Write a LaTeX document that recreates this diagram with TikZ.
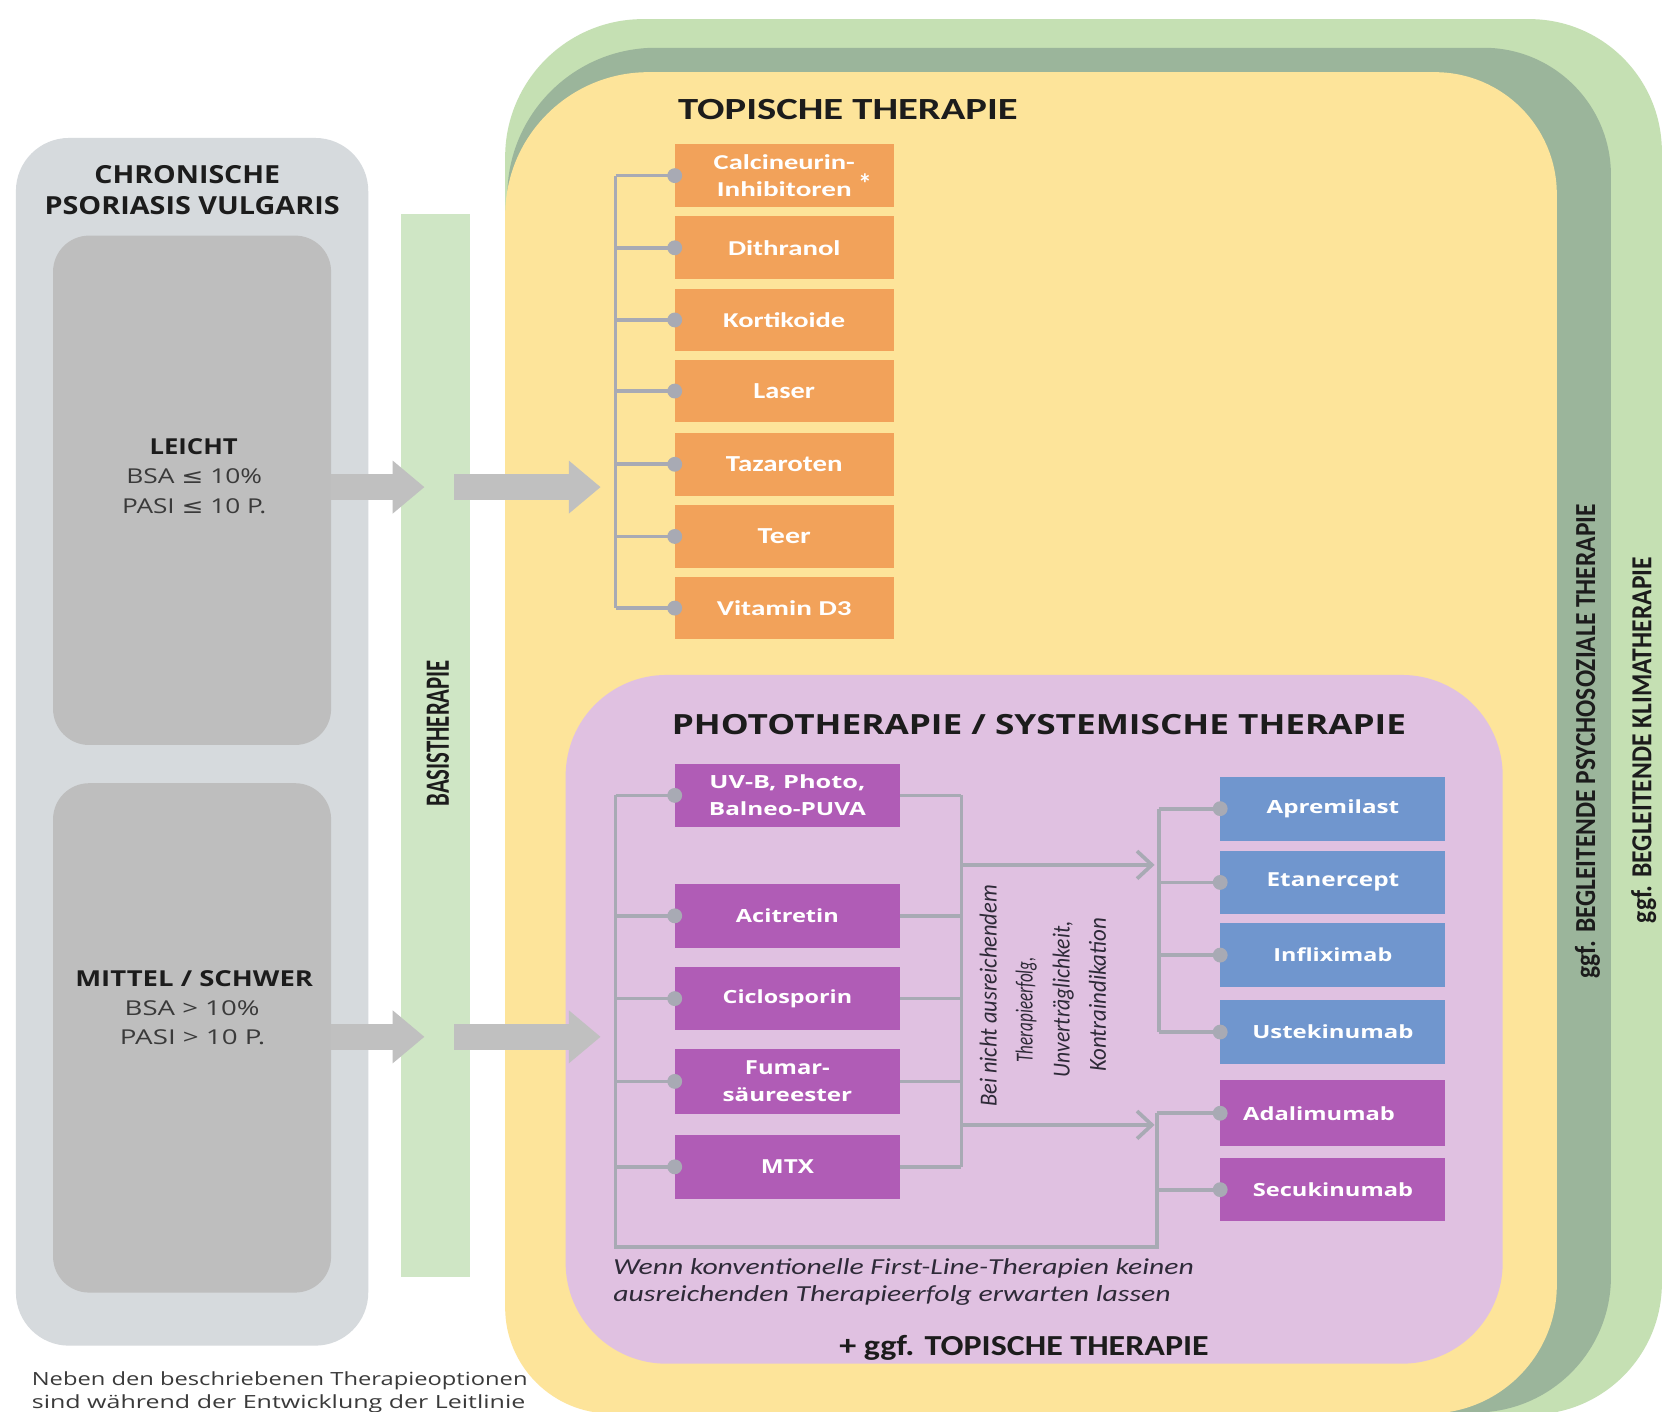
\documentclass[tikz,border=0pt]{standalone}
\usepackage{fontspec}
\usepackage{graphicx}
\setmainfont{Open Sans}
\newfontfamily\carl{Carlito}
\newfontfamily\dvs{DejaVu Sans}
\usetikzlibrary{arrows.meta}
\definecolor{outergray}{HTML}{D6DADD}
\definecolor{innergray}{HTML}{BEBEBE}
\definecolor{arrowgray}{HTML}{C0C0C0}
\definecolor{basisgreen}{HTML}{CFE6C5}
\definecolor{lightgreen}{HTML}{C5E0B3}
\definecolor{darkgreen}{HTML}{9BB59B}
\definecolor{yellowbg}{HTML}{FDE49A}
\definecolor{lilac}{HTML}{E0C1E1}
\definecolor{orangebox}{HTML}{F2A25A}
\definecolor{purplebox}{HTML}{B05CB6}
\definecolor{bluebox}{HTML}{7096CE}
\definecolor{conngray}{HTML}{A8AAB4}
\definecolor{darktext}{HTML}{1C1C1C}
\definecolor{midtext}{HTML}{3A3A3A}
\definecolor{italtext}{HTML}{2E2A38}
\newcommand\fit[3]{\resizebox{#1pt}{#2pt}{#3}}
\tikzset{
  txt/.style={inner sep=0pt, outer sep=0pt, anchor=base, text=darktext},
  hb/.style={txt, font=\bfseries},
  hr/.style={txt, text=midtext},
  cb/.style={txt, font=\carl\bfseries},
  ci/.style={txt, font=\carl\itshape, text=italtext},
  obox/.style={fill=orangebox, minimum width=206pt, minimum height=59pt, inner sep=0pt, text=white, font=\carl\bfseries\fontsize{16}{26}\selectfont, align=center},
  pbox/.style={fill=purplebox, minimum width=212pt, minimum height=60pt, inner sep=0pt, text=white, font=\bfseries\fontsize{16}{25}\selectfont, align=center},
  bbox/.style={pbox, fill=bluebox},
  conn/.style={draw=conngray, line width=3.5pt},
  dot/.style={fill=conngray},
  fat/.style={draw=arrowgray, line width=24pt, -{Triangle[length=30pt,width=48pt]}},
  thinarrow/.style={conn, -{Straight Barb[length=14pt,width=26pt]}},
  graybox/.style={inner sep=0pt, rounded corners=34pt, fill=innergray, minimum width=262pt, minimum height=480pt},
}
\begin{document}
\begin{tikzpicture}[x=1pt,y=-1pt]
\useasboundingbox (0,0) rectangle (1568,1330);
\fill[white] (0,0) rectangle (1568,1330);

% nested background frames
\fill[lightgreen] (476,148) arc[start angle=180,end angle=270,radius=130] -- (1441,18)
  arc[start angle=270,end angle=360,radius=125] -- (1566,1209)
  arc[start angle=0,end angle=90,radius=124] -- (700,1333) -- (700,1000) -- (476,1000) -- cycle;
\fill[darkgreen] (478,185) arc[start angle=180,end angle=270,radius=140] -- (1398,45)
  arc[start angle=270,end angle=360,radius=120] -- (1518,1203)
  arc[start angle=0,end angle=90,radius=128] -- (700,1331) -- (700,1000) -- (478,1000) -- cycle;
\fill[yellowbg] (476,203) arc[start angle=180,end angle=270,radius=135] -- (1352,68)
  arc[start angle=270,end angle=360,radius=115] -- (1467,1211)
  arc[start angle=0,end angle=90,radius=121] -- (576,1332)
  arc[start angle=90,end angle=180,radius=100] -- cycle;
\fill[lilac, rounded corners=95pt] (533,636) rectangle (1416,1285);

% left column
\node[inner sep=0pt, rounded corners=50pt, fill=outergray, minimum width=332pt, minimum height=1138pt] (chron) at (181,699) {};
\node[graybox] (lk) at (181,462) {};
\node[graybox] (ms) at (181,978) {};
\node[inner sep=0pt, fill=basisgreen, minimum width=65pt, minimum height=1001pt] (basis) at (410.5,702.5) {};

% fat arrows
\coordinate (fa1) at (400,459);
\coordinate (fb1s) at (428,459);
\coordinate (fb1e) at (566,459);
\coordinate (fa2) at (400,977);
\coordinate (fb2s) at (428,977);
\coordinate (fb2e) at (566,977);
\draw[fat] (lk.east |- fa1) -- (fa1);
\draw[fat] (fb1s) -- (fb1e);
\draw[fat] (ms.east |- fa2) -- (fa2);
\draw[fat] (fb2s) -- (fb2e);

% boxes
\node[obox] (o1) at (739,165.5) {\fit{133}{14}{Calcineurin-}\\\fit{127}{14}{Inhibitoren}\rlap{\hspace{6pt}\raisebox{3pt}{\fontsize{26}{26}\selectfont *}}};
\node[obox] (o2) at (739,233.5) {\fit{106}{14}{Dithranol}};
\node[obox] (o3) at (739,301.5) {\fit{115}{14}{Kortikoide}};
\node[obox] (o4) at (739,368.5) {\fit{58}{14}{Laser}};
\node[obox] (o5) at (739,437.5) {\fit{110}{14}{Tazaroten}};
\node[obox] (o6) at (739,505.5) {\fit{50}{14}{Teer}};
\node[obox] (o7) at (739,573) {\fit{127}{14}{Vitamin D3}};

\node[pbox] (p1) at (742,749.5) {\fit{147}{13}{UV-B, Photo,}\\\fit{148}{13}{Balneo-PUVA}};
\node[pbox] (p2) at (742,863) {\fit{97}{13}{Acitretin}};
\node[pbox] (p3) at (742,941) {\fit{122}{13}{Ciclosporin}};
\node[pbox, minimum height=62pt] (p4) at (742,1019) {\fit{80}{13}{Fumar-}\\\fit{122}{13}{säureester}};
\node[pbox] (p5) at (742,1099.5) {\fit{50}{13}{MTX}};

\node[bbox] (b1) at (1256,762) {\fit{125}{13}{Apremilast}};
\node[bbox, minimum height=59pt] (b2) at (1256,831.5) {\fit{125}{13}{Etanercept}};
\node[bbox] (b3) at (1256,900) {\fit{112}{13}{Infliximab}};
\node[bbox, minimum height=61pt] (b4) at (1256,972.5) {\fit{152}{13}{Ustekinumab}};
\node[pbox, minimum height=62pt] (q1) at (1256,1049) {\fit{143}{13}{Adalimumab}\hspace{26pt}};
\node[pbox] (q2) at (1256,1121) {\fit{151}{13}{Secukinumab}};

% connectors
\coordinate (lb) at (580,0);
\coordinate (pl) at (580,1175);
\coordinate (rb) at (906,0);
\coordinate (ub) at (1092,0);
\coordinate (qb) at (1090,0);
\coordinate (as1) at (906,815);
\coordinate (ae1) at (1088,815);
\coordinate (as2) at (906,1060);
\coordinate (ae2) at (1088,1060);

\draw[conn] (o1.west -| lb) -- (o7.west -| lb);
\foreach \n in {1,...,7} \draw[conn] (o\n.west -| lb) -- (o\n.west);

\draw[conn] (p1.west -| lb) -- (pl) -- (pl -| qb) -- (q1.west -| qb);
\foreach \n in {1,...,5} \draw[conn] (p\n.west -| lb) -- (p\n.west);
\draw[conn] (p1.east -| rb) -- (p5.east -| rb);
\foreach \n in {1,...,5} \draw[conn] (p\n.east) -- (p\n.east -| rb);
\draw[thinarrow] (as1) -- (ae1);
\draw[thinarrow] (as2) -- (ae2);
\draw[conn] (b1.west -| ub) -- (b4.west -| ub);
\foreach \n in {1,...,4} \draw[conn] (b\n.west -| ub) -- (b\n.west);
\draw[conn] (q1.west -| qb) -- (q1.west);
\draw[conn] (q2.west -| qb) -- (q2.west);

% dots
\foreach \n in {1,...,7} \fill[dot] (o\n.west) circle (7);
\foreach \n in {1,...,5} \fill[dot] (p\n.west) circle (7);
\foreach \n in {1,...,4} \fill[dot] (b\n.west) circle (7);
\fill[dot] (q1.west) circle (7);
\fill[dot] (q2.west) circle (7);

% texts left column
\node[hb] (t1) at (176.5,173) {\fit{175}{17}{CHRONISCHE}};
\node[hb] (t2) at (181,202) {\fit{278}{17}{PSORIASIS VULGARIS}};
\node[hb] (t3) at (182.5,428) {\fit{83}{15}{LEICHT}};
\node[hr] (t4) at (183,456) {\fit{128}{14}{BSA {\dvs ≤} 10\%}};
\node[hr] (t5) at (183,484) {\fit{136}{14}{PASI {\dvs ≤} 10 P.}};
\node[hb] (t6) at (183,930) {\fit{224}{15}{MITTEL / SCHWER}};
\node[hr] (t7) at (181,957) {\fit{127}{14}{BSA > 10\%}};
\node[hr] (t8) at (181.5,984) {\fit{137}{14}{PASI > 10 P.}};
\node[cb, rotate=90] (basislbl) at (423,691) {\fit{138}{21}{BASISTHERAPIE}};

% headings
\node[cb] (t9) at (799,113) {\fit{320}{19}{TOPISCHE THERAPIE}};
\node[hb] (t10) at (979,692) {\fit{692}{19}{PHOTOTHERAPIE / SYSTEMISCHE THERAPIE}};
\node[cb] (t11) at (965,1277) {\fit{348}{19}{+ ggf. TOPISCHE THERAPIE}};

% italic notes
\node[ci, anchor=base west] (w1) at (578,1201) {\fit{547}{15}{Wenn konventionelle First-Line-Therapien keinen}};
\node[ci, anchor=base west] (w2) at (578,1226) {\fit{525}{15}{ausreichenden Therapieerfolg erwarten lassen}};
\node[ci, rotate=90] (r1) at (939,938.5) {\fit{209}{16}{Bei nicht ausreichendem}};
\node[ci, rotate=90] (r2) at (973,951.5) {\fit{99}{16}{Therapieerfolg,}};
\node[ci, rotate=90] (r3) at (1008,941.5) {\fit{147}{16}{Unverträglichkeit,}};
\node[ci, rotate=90] (r4) at (1042,937.5) {\fit{145}{16}{Kontraindikation}};

% side labels
\node[cb, rotate=90] (side1) at (1503,698.5) {\fit{447}{19}{ggf. BEGLEITENDE PSYCHOSOZIALE THERAPIE}};
\node[cb, rotate=90] (side2) at (1556,697.5) {\fit{345}{19}{ggf. BEGLEITENDE KLIMATHERAPIE}};

% footnote
\node[hr, anchor=base west] (f1) at (30,1306) {\fit{467}{13}{Neben den beschriebenen Therapieoptionen}};
\node[hr, anchor=base west] (f2) at (30,1327) {\fit{465}{13}{sind während der Entwicklung der Leitlinie}};
\end{tikzpicture}
\end{document}
